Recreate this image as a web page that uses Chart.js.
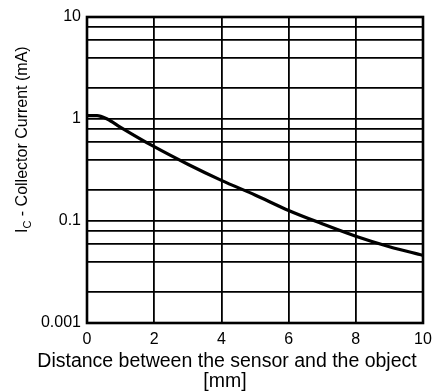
<!DOCTYPE html>
<html>
<head>
<meta charset="utf-8">
<script src="https://cdn.jsdelivr.net/npm/chart.js@4.4.0/dist/chart.umd.min.js"></script>
<style>
  html, body { margin: 0; padding: 0; background: #fff; }
  #wrap { width: 432px; height: 392px; }
</style>
</head>
<body>
<div id="wrap"><canvas id="chart" width="432" height="392"></canvas></div>
<script>
// Collector current vs distance
const distanceMm = [0, 0.3, 0.6, 1, 2, 3, 4, 5, 6, 7, 8, 9, 10];
const collectorMa = [1.08, 1.08, 1.0, 0.83, 0.535, 0.36, 0.25, 0.18, 0.127, 0.094, 0.071, 0.056, 0.046];

// grid lines / ticks
const xTicks = [0, 2, 4, 6, 8, 10];
const yTicks = [0.01, 0.02, 0.04, 0.06, 0.08, 0.1, 0.2, 0.4, 0.6, 0.8, 1, 2, 4, 6, 8, 10];
// only the decades get a label (bottom one reads 0.001 on the original)
const yLabelValues = [0.01, 0.1, 1, 10];
const yLabelText = ['0.001', '0.1', '1', '10'];

const xTitle = ['Distance between the sensor and the object', '[mm]'];
const yTitle = ['I', 'C', ' - Collector Current (mA)'];

const FONT = '"Liberation Sans", Arial, Helvetica, sans-serif';

// draws the frame and both axis titles (y title needs a subscript)
const titlesPlugin = {
  id: 'titles',
  afterDraw(chart) {
    const ctx = chart.ctx;
    const a = chart.chartArea;
    ctx.save();
    ctx.strokeStyle = '#000';
    ctx.lineWidth = 2.6;
    ctx.strokeRect(a.left, a.top, a.right - a.left, a.bottom - a.top);

    ctx.fillStyle = '#000';
    ctx.textAlign = 'center';
    ctx.textBaseline = 'alphabetic';
    ctx.font = '19.5px ' + FONT;
    ctx.fillText(xTitle[0], 227, 367);
    ctx.fillText(xTitle[1], 225, 387);

    // rotated y title, written bottom to top
    ctx.translate(27, 233);
    ctx.rotate(-Math.PI / 2);
    ctx.textAlign = 'left';
    ctx.font = '16px ' + FONT;
    let x = 0;
    ctx.fillText(yTitle[0], x, 0);
    x += ctx.measureText(yTitle[0]).width;
    ctx.font = '11px ' + FONT;
    ctx.fillText(yTitle[1], x, 4);
    x += ctx.measureText(yTitle[1]).width;
    ctx.font = '16px ' + FONT;
    ctx.fillText(yTitle[2], x, 0);
    ctx.restore();
  }
};

const ctx = document.getElementById('chart').getContext('2d');
new Chart(ctx, {
  type: 'line',
  data: {
    datasets: [{
      data: distanceMm.map((d, i) => ({ x: d, y: collectorMa[i] })),
      borderColor: '#000',
      borderWidth: 3.2,
      pointRadius: 0,
      cubicInterpolationMode: 'monotone',
      fill: false
    }]
  },
  options: {
    responsive: false,
    animation: false,
    devicePixelRatio: 1,
    layout: { padding: { left: 0, top: 17, right: 9, bottom: 0 } },
    plugins: {
      legend: { display: false },
      tooltip: { enabled: false }
    },
    scales: {
      x: {
        type: 'linear',
        min: 0,
        max: 10,
        afterBuildTicks: (scale) => { scale.ticks = xTicks.map(v => ({ value: v })); },
        afterFit: (scale) => {
          scale.height = 69;
          scale.paddingLeft = 0;
          scale.paddingRight = 0;
        },
        grid: { color: '#000', lineWidth: 1.8, drawTicks: false },
        border: { display: false },
        ticks: {
          color: '#000',
          padding: 7,
          maxRotation: 0,
          font: { family: FONT, size: 16 }
        }
      },
      y: {
        type: 'logarithmic',
        min: 0.01,
        max: 10,
        afterBuildTicks: (scale) => { scale.ticks = yTicks.map(v => ({ value: v })); },
        afterFit: (scale) => {
          scale.width = 87;
          scale.paddingTop = 0;
          scale.paddingBottom = 0;
        },
        grid: { color: '#000', lineWidth: 1.8, drawTicks: false },
        border: { display: false },
        ticks: {
          color: '#000',
          padding: 6,
          autoSkip: false,
          font: { family: FONT, size: 16 },
          callback: (value) => {
            const i = yLabelValues.indexOf(value);
            return i >= 0 ? yLabelText[i] : '';
          }
        }
      }
    }
  },
  plugins: [titlesPlugin]
});
</script>
</body>
</html>
